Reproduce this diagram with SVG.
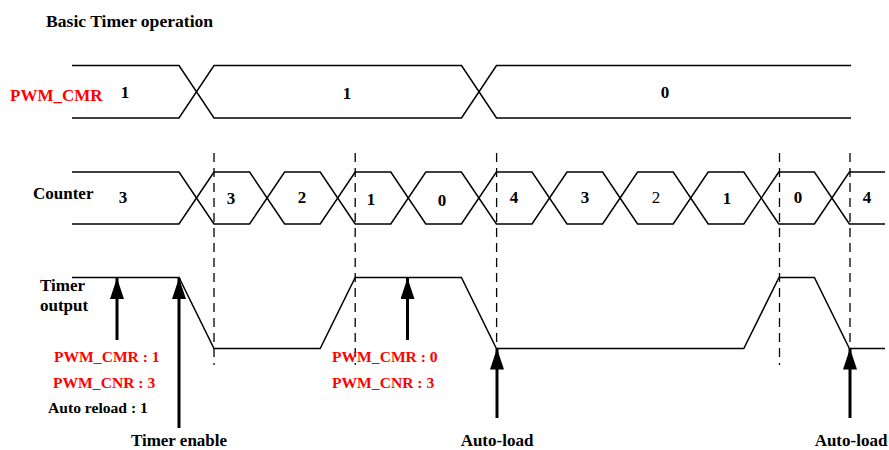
<svg xmlns="http://www.w3.org/2000/svg" width="889" height="450" viewBox="0 0 889 450">
<style>
text{font-family:"Liberation Serif","Times New Roman",serif;font-weight:bold;fill:#000}
.lbl{font-size:17px}
.sm{font-size:15.6px}
.red{fill:#f00}
.mid{text-anchor:middle}
.w{fill:none;stroke:#000;stroke-width:1.5}
.d{fill:none;stroke:#000;stroke-width:1.3;stroke-dasharray:9,6}
.ar{fill:none;stroke:#000;stroke-width:3}
</style>
<defs>
<marker id="ah" markerUnits="userSpaceOnUse" markerWidth="22" markerHeight="14" refX="21" refY="7" orient="auto">
<path d="M0,0 L21,7 L0,14 Z" fill="#000"/>
</marker>
</defs>
<rect width="889" height="450" fill="#fff"/>
<text id="title" x="46" y="27" style="font-size:17.6px">Basic Timer operation</text>

<g id="pwm_cmr">
<text class="lbl red" x="10" y="101">PWM_CMR</text>
<path class="w" d="M72,65.5 H179 L214,118 H461.5 L496.5,65.5 H851 M72,118 H179 L214,65.5 H461.5 L496.5,118 H851"/>
<text class="lbl mid" x="125" y="98">1</text>
<text class="lbl mid" x="347" y="99">1</text>
<text class="lbl mid" x="665" y="98">0</text>
</g>

<g id="counter">
<text class="lbl" x="33" y="199">Counter</text>
<path class="w" d="M72,172 H179 L214,224 H249.6 L284.6,172 H320.2 L355.2,224 H390.8 L425.8,172 H461.4 L496.4,224 H532 L567,172 H602.6 L637.6,224 H673.2 L708.2,172 H743.8 L778.8,224 H814.4 L849.4,172 H885"/>
<path class="w" d="M72,224 H179 L214,172 H249.6 L284.6,224 H320.2 L355.2,172 H390.8 L425.8,224 H461.4 L496.4,172 H532 L567,224 H602.6 L637.6,172 H673.2 L708.2,224 H743.8 L778.8,172 H814.4 L849.4,224 H885"/>
<text class="lbl mid" x="123" y="203">3</text>
<text class="lbl mid" x="231" y="204">3</text>
<text class="lbl mid" x="302" y="203">2</text>
<text class="lbl mid" x="371" y="205">1</text>
<text class="lbl mid" x="442" y="206">0</text>
<text class="lbl mid" x="514" y="203">4</text>
<text class="lbl mid" x="585" y="203">3</text>
<text class="lbl mid" x="656" y="203" style="font-weight:normal">2</text>
<text class="lbl mid" x="727" y="204">1</text>
<text class="lbl mid" x="798" y="203">0</text>
<text class="lbl mid" x="867" y="203">4</text>
</g>

<g id="timer_output">
<text class="lbl" x="40" y="291">Timer</text>
<text class="lbl" x="40" y="311">output</text>
<path class="w" d="M72,277.5 H179 L214,348.5 H320.2 L355.2,277.5 H461.4 L496.4,348.5 H743.8 L779,277.5 H814.4 L849.4,348.5 H885"/>
</g>

<g id="connectors">
<path class="d" d="M214,153 V365 M355.2,153 V365 M496.6,153 V348 M779.5,153 V365 M850,153 V365"/>
<path class="ar" d="M117,340 V278" marker-end="url(#ah)"/>
<path class="ar" d="M179,428 V278" marker-end="url(#ah)"/>
<path class="ar" d="M407.5,340 V278" marker-end="url(#ah)"/>
<path class="ar" d="M497,418 V348.5" marker-end="url(#ah)"/>
<path class="ar" d="M850,418 V348.5" marker-end="url(#ah)"/>
</g>

<g id="note1">
<text class="sm red" x="54" y="362">PWM_CMR : 1</text>
<text class="sm red" x="53" y="388">PWM_CNR : 3</text>
<text class="sm" x="48" y="413">Auto reload : 1</text>
</g>
<g id="note2">
<text class="sm red" x="332" y="362">PWM_CMR : 0</text>
<text class="sm red" x="332" y="388">PWM_CNR : 3</text>
</g>
<g id="timer_enable"><text class="lbl mid" x="179" y="446">Timer enable</text></g>
<g id="autoload1"><text class="lbl mid" x="497" y="446">Auto-load</text></g>
<g id="autoload2"><text class="lbl mid" x="851" y="446">Auto-load</text></g>
</svg>
